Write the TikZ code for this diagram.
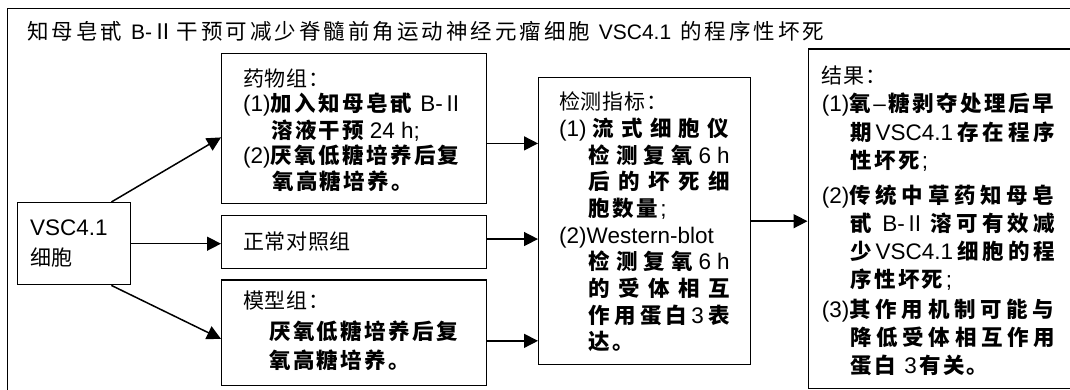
\documentclass[tikz,border=0pt]{standalone}
\usepackage{fontspec}
\setmainfont{Liberation Sans}
\newfontfamily\latf{Liberation Sans}
\newfontfamily\cjkf{Noto Sans CJK SC}
\usetikzlibrary{arrows.meta}

% spread a list of tokens with a given glue between them
\newcommand\SP[2]{\def\SPglue{#1}\SPa#2\SPstop}
\def\SPstop{}
\def\SPstopm{\SPstop}
\def\SPa#1{#1\SPb}
\def\SPb#1{\def\SPtmp{#1}\ifx\SPtmp\SPstopm\else\SPglue#1\expandafter\SPb\fi}

\newcommand\latB[1]{{\latf\mdseries\fontsize{22.5}{23}\selectfont #1}}
\newcommand\latT[1]{{\latf\mdseries\fontsize{21}{21}\selectfont #1}}
\newcommand\Bf{\cjkf\bfseries\fontsize{21.5}{22}\selectfont}
\newcommand\Rf{\cjkf\mdseries\fontsize{21}{22}\selectfont}
\newcommand\NAT[1]{\SP{\hskip2.4pt}{#1}}
\newcommand\HD[1]{{\Rf\SP{\hskip0.7pt}{#1}}}
\newcommand\JUS[2]{\makebox[#1][s]{\SP{\hfil}{#2}}}
\newcommand\RN{{\cjkf\mdseries Ⅱ}}

\tikzset{
  box/.style={draw, line width=1.4pt, inner sep=0pt, anchor=north west},
  txt/.style={anchor=west, inner sep=0pt, text height=16.5pt, text depth=0.3pt},
  arr/.style={line width=1.5pt, -{Triangle[length=14pt,width=14pt]}},
}

\begin{document}
\begin{tikzpicture}[x=1pt,y=-1pt]
\useasboundingbox (0,0) rectangle (1070,390);
\fill[white] (0,0) rectangle (1070,390);
\draw[line width=1.8pt] (7.5,8.5) rectangle (1100,420);

% title
\node[txt] (title) at (27,31.7) {\cjkf\fontsize{21.5}{22}\selectfont\SP{\hskip3pt}{知母皂甙{\latT{ B-}\RN}干预可减少脊髓前角运动神经元瘤细胞{\latT{ VSC4.1 }}的程序性坏死}};

% boxes
\node[box, minimum width=113pt, minimum height=82pt] (vsc) at (17,202) {};
\node[box, minimum width=265pt, minimum height=150pt] (drug) at (221,52.7) {};
\node[box, minimum width=265pt, minimum height=52.7pt] (norm) at (221,215) {};
\node[box, minimum width=265pt, minimum height=105.7pt] (model) at (221,279.3) {};
\node[box, minimum width=212pt, minimum height=287pt] (det) at (538,77) {};
\node[box, minimum width=300pt, minimum height=339.5pt] (res) at (807.5,48.5) {};

% VSC box text
\node[txt] (v0) at (30,227) {\latB{VSC4.1}};
\node[txt] (v1) at (30,257) {\HD{细胞}};

% drug group
\node[txt] (d0) at (243,78) {\HD{药物组：}};
\node[txt] (d1) at (243,103) {\Bf\latB{(1)}\NAT{加入知母皂甙{\latB{ B-}\RN}}};
\node[txt] (d2) at (271,130) {\Bf\NAT{溶液干预{\latB{\hspace{3pt}24 h;}}}};
\node[txt] (d3) at (243,155) {\Bf\latB{(2)}\NAT{厌氧低糖培养后复}};
\node[txt] (d4) at (272,181.7) {\Bf\NAT{氧高糖培养。}};

% normal group
\node[txt] (n0) at (243,241) {\HD{正常对照组}};

% model group
\node[txt] (m0) at (243,300) {\HD{模型组：}};
\node[txt] (m1) at (269,331.7) {\Bf\NAT{厌氧低糖培养后复}};
\node[txt] (m2) at (269,360) {\Bf\NAT{氧高糖培养。}};

% detection
\node[txt] (e0) at (559,101.7) {\HD{检测指标：}};
\node[txt] (e1) at (559,128.3) {\Bf\latB{(1) }\JUS{136pt}{流式细胞仪}};
\node[txt] (e2) at (588.5,155) {\Bf\JUS{141pt}{检测复氧{\latB{6}}{\latB{h}}}};
\node[txt] (e3) at (588.5,181.7) {\Bf\JUS{141pt}{后的坏死细}};
\node[txt] (e4) at (588.5,208.3) {\Bf\NAT{胞数量{\latB{;}}}};
\node[txt] (e5) at (559,235) {\latB{(2)Western-blot}};
\node[txt] (e6) at (588.5,261.7) {\Bf\JUS{141pt}{检测复氧{\latB{6}}{\latB{h}}}};
\node[txt] (e7) at (588.5,288.3) {\Bf\JUS{141pt}{的受体相互}};
\node[txt] (e8) at (588.5,315) {\Bf\JUS{141pt}{作用蛋白{\latB{3}}表}};
\node[txt] (e9) at (588.5,341.7) {\Bf\NAT{达。}};

% results
\node[txt] (r0) at (821.7,75) {\HD{结果：}};
\node[txt] (r1) at (821.7,103.5) {\Bf\latB{(1)}\JUS{205pt}{氧{\latB{–}}糖剥夺处理后早}};
\node[txt] (r2) at (850,132) {\Bf\JUS{205pt}{期{\latB{VSC4.1}}存在程序}};
\node[txt] (r3) at (850,160) {\Bf\NAT{性坏死{\latB{;}}}};
\node[txt] (r4) at (821.7,195) {\Bf\latB{(2)}\JUS{205pt}{传统中草药知母皂}};
\node[txt] (r5) at (850,223) {\Bf\JUS{205pt}{甙{\latB{ B-}\RN}溶可有效减}};
\node[txt] (r6) at (850,251) {\Bf\JUS{205pt}{少{\latB{VSC4.1}}细胞的程}};
\node[txt] (r7) at (850,279) {\Bf\NAT{序性坏死{\latB{;}}}};
\node[txt] (r8) at (821.7,309) {\Bf\latB{(3)}\JUS{205pt}{其作用机制可能与}};
\node[txt] (r9) at (850,337) {\Bf\JUS{205pt}{降低受体相互作用}};
\node[txt] (r10) at (850,365) {\Bf\NAT{蛋白{\latB{ 3}}有关。}};

% arrows
\draw[arr] ([xshift=-20pt]vsc.north east) -- ([yshift=-9pt]drug.west);
\draw[arr] (vsc.east) -- (vsc.east -| norm.west);
\draw[arr] ([xshift=-20pt]vsc.south east) -- ([yshift=-6pt]model.west);
\draw[arr] ([yshift=-15pt]drug.east) coordinate (da) -- (da -| det.west);
\draw[arr] ([yshift=3pt]norm.east) coordinate (na) -- (na -| det.west);
\draw[arr] ([yshift=-8pt]model.east) coordinate (ma) -- (ma -| det.west);
\draw[arr] (det.east) -- (det.east -| res.west);
\end{tikzpicture}
\end{document}
